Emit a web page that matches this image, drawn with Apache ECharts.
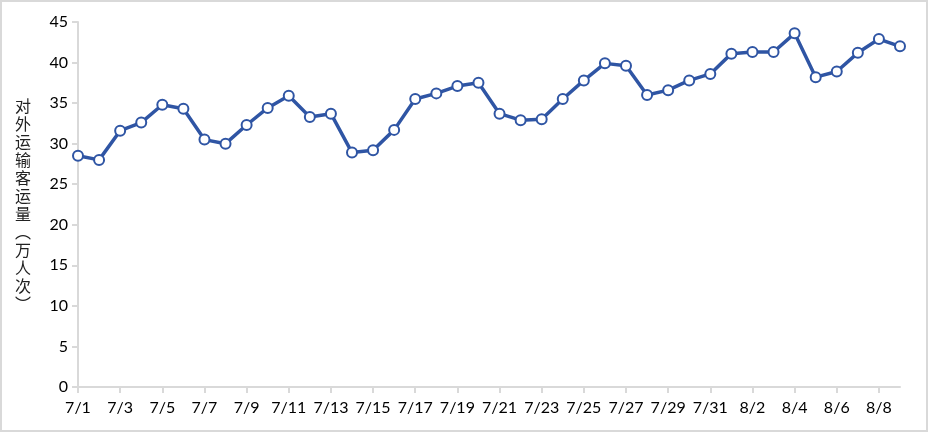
<!DOCTYPE html>
<html>
<head>
<meta charset="utf-8">
<script src="https://cdn.jsdelivr.net/npm/echarts@6/dist/echarts.min.js"></script>
<style>
    html, body { margin: 0; padding: 0; background: #fff; }
    #chart { width: 928px; height: 432px; box-sizing: border-box; border: 2px solid #d9d9d9; }
</style>
</head>
<body>
<div id="chart"></div>
<script>
var dates = ['7/1', '7/2', '7/3', '7/4', '7/5', '7/6', '7/7', '7/8', '7/9', '7/10',
    '7/11', '7/12', '7/13', '7/14', '7/15', '7/16', '7/17', '7/18', '7/19', '7/20',
    '7/21', '7/22', '7/23', '7/24', '7/25', '7/26', '7/27', '7/28', '7/29', '7/30',
    '7/31', '8/1', '8/2', '8/3', '8/4', '8/5', '8/6', '8/7', '8/8', '8/9'];

// 对外运输客运量（万人次）
var passengers = [28.5, 28.0, 31.6, 32.6, 34.8, 34.3, 30.5, 30.0, 32.3, 34.4,
    35.9, 33.3, 33.7, 28.9, 29.2, 31.7, 35.5, 36.2, 37.1, 37.5,
    33.7, 32.9, 33.0, 35.5, 37.8, 39.9, 39.6, 36.0, 36.6, 37.8,
    38.6, 41.1, 41.3, 41.3, 43.6, 38.2, 38.9, 41.2, 42.9, 42.0];

var axisName = '对外运输客运量︵万人次︶';

var myChart = echarts.init(document.getElementById('chart'));
var option = {
    animation: false,
    grid: { left: 76, right: 26, top: 20, bottom: 43 },
    xAxis: {
        type: 'category',
        boundaryGap: false,
        data: dates,
        axisLine: { lineStyle: { color: '#d9d9d9', width: 2 } },
        axisTick: { interval: 1, length: 6, lineStyle: { color: '#d9d9d9', width: 2 } },
        axisLabel: { interval: 1, color: '#000', fontSize: 16, fontFamily: 'Lato', margin: 13 },
        splitLine: { show: false }
    },
    yAxis: {
        type: 'value',
        min: 0,
        max: 45,
        interval: 5,
        name: axisName.split('').join('\n'),
        nameLocation: 'middle',
        nameRotate: 0,
        nameGap: 47,
        nameTextStyle: { color: '#222', fontSize: 16, lineHeight: 18, fontFamily: 'Noto Sans CJK SC' },
        axisLine: { show: true, lineStyle: { color: '#d9d9d9', width: 2 } },
        axisTick: { show: true, length: 6, lineStyle: { color: '#d9d9d9', width: 2 } },
        axisLabel: { color: '#000', fontSize: 16, fontFamily: 'Lato', margin: 10 },
        splitLine: { show: false }
    },
    series: [{
        name: '对外运输客运量',
        type: 'line',
        data: passengers,
        symbol: 'circle',
        symbolSize: 10,
        lineStyle: { color: '#2f55a4', width: 3.5 },
        itemStyle: { color: '#fff', borderColor: '#2f55a4', borderWidth: 2 }
    }]
};
myChart.setOption(option);
</script>
</body>
</html>
